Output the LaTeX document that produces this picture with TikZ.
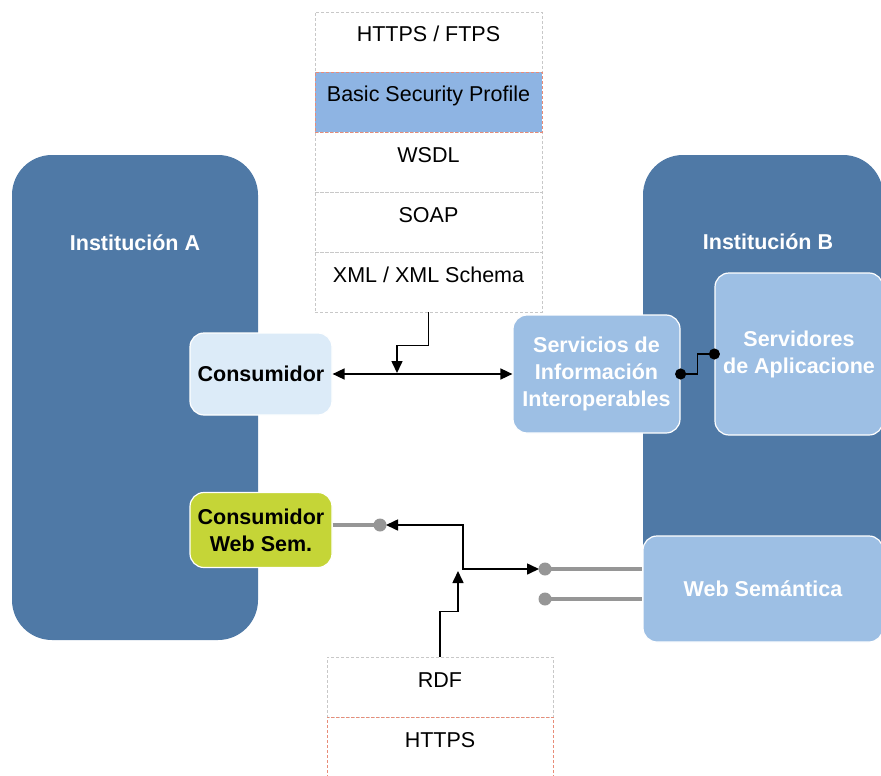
\documentclass[tikz,border=0pt]{standalone}
\usepackage{fontspec}
\setmainfont{Liberation Sans}
\usepackage{xcolor}
\usepackage{tikz}
\usetikzlibrary{arrows.meta,calc}

\definecolor{instblue}{RGB}{79,121,166}
\definecolor{paleblue}{RGB}{157,191,228}
\definecolor{iceblue}{RGB}{220,235,248}
\definecolor{bspblue}{RGB}{142,180,227}
\definecolor{limegreen}{RGB}{197,213,55}
\definecolor{linkgray}{RGB}{150,150,150}
\definecolor{dashgray}{RGB}{200,200,200}
\definecolor{dashred}{RGB}{232,140,120}
\newcommand{\diagfont}{\fontsize{21.5}{27}\selectfont}

\begin{document}
\begin{tikzpicture}[x=1pt, y=-1pt, every node/.style={font=\diagfont},
    inst/.style={rounded corners=40pt, fill=instblue, inner sep=0pt},
    instlabel/.style={font=\diagfont\bfseries, text=white},
    layer/.style={draw=dashgray, dash pattern=on 3pt off 2pt, line width=0.8pt,
      inner sep=0pt, text height=12pt, text depth=12pt, minimum height=60pt},
    part/.style={rounded corners=14pt, draw=white, line width=1.2pt, inner sep=0pt,
      align=center, font=\diagfont\bfseries},
    flow/.style={draw=black, line width=1.6pt},
    wire/.style={draw=linkgray, line width=3.5pt},
    tip/.style={-{Triangle[length=12pt,width=11pt]}}]
  \useasboundingbox (0,0) rectangle (881,776);
  % protocol stack (top)
  \node[layer, minimum width=227pt] (https) at (428.5,42) {HTTPS / FTPS};
  \node[layer, minimum width=227pt] (wsdl) at (428.5,162) {WSDL};
  \node[layer, minimum width=227pt] (soap) at (428.5,222) {SOAP};
  \node[layer, minimum width=227pt] (xml) at (428.5,282) {XML / XML Schema};
  \node[layer, minimum width=227pt, fill=bspblue, draw=dashred] (bsp) at (428.5,102) {Basic Security Profile};
  % protocol stack (bottom)
  \node[layer, minimum width=226pt] (rdf) at (440,687) {RDF};
  \node[layer, minimum width=226pt, draw=dashred] (httpsb) at (440,747) {HTTPS};
  % institutions
  \node[inst, minimum width=246pt, minimum height=485pt] (instA) at (135,397.5) {};
  \node[instlabel] (labA) at (135,243) {Institución A};
  \node[inst, minimum width=240pt, minimum height=465pt] (instB) at (763,387.5) {};
  \node[instlabel] (labB) at (768,242) {Institución B};
  % components
  \node[part, fill=iceblue, minimum width=142pt, minimum height=82pt] (cons) at (261,374) {Consumidor};
  \node[part, fill=limegreen, minimum width=142pt, minimum height=75pt] (cws) at (261,530) {Consumidor\\Web Sem.};
  \node[part, fill=paleblue, text=white, minimum width=167pt, minimum height=118pt] (serv) at (596.5,374)
    {Servicios de\\Información\\Interoperables};
  \node[part, fill=paleblue, text=white, minimum width=168pt, minimum height=162pt] (srv) at (799,354)
    {Servidores\\de Aplicacione};
  \node[part, fill=paleblue, text=white, minimum width=240pt, minimum height=106pt] (ws) at (763,589)
    {Web Semántica};
  % web service link
  \coordinate (soapTap) at (397,373);
  \draw[flow, {Triangle[length=12pt,width=11pt]}-{Triangle[length=12pt,width=11pt]}] (cons.east) -- (serv.west);
  \draw[flow, tip] (xml.south) -- ++(0,33) -| (soapTap);
  \draw[flow, {Circle[length=11pt]}-{Circle[length=11pt]}, shorten <=-5.5pt, shorten >=-5.5pt]
    (serv.east) -- ++(17,0) |- (srv.west);
  % semantic web link
  \coordinate (gA) at (380,525);
  \coordinate (gB) at (545,569);
  \coordinate (gC) at (545,599);
  \coordinate (hub) at (463,569);
  \coordinate (rdfTap) at (458,571);
  \draw[wire] (cws.east |- gA) -- (gA);
  \draw[wire] (gB) -- (gB -| ws.west);
  \draw[wire] (gC) -- (gC -| ws.west);
  \fill[linkgray] (gA) circle (6.5pt);
  \fill[linkgray] (gB) circle (6.5pt);
  \fill[linkgray] (gC) circle (6.5pt);
  \draw[flow, {Triangle[length=12pt,width=11pt]}-{Triangle[length=12pt,width=11pt]}, shorten <=6pt, shorten >=6pt]
    (gA) -| (hub) -- (gB);
  \draw[flow, tip] (rdf.north) -- ++(0,-45) -| (rdfTap);
\end{tikzpicture}
\end{document}
